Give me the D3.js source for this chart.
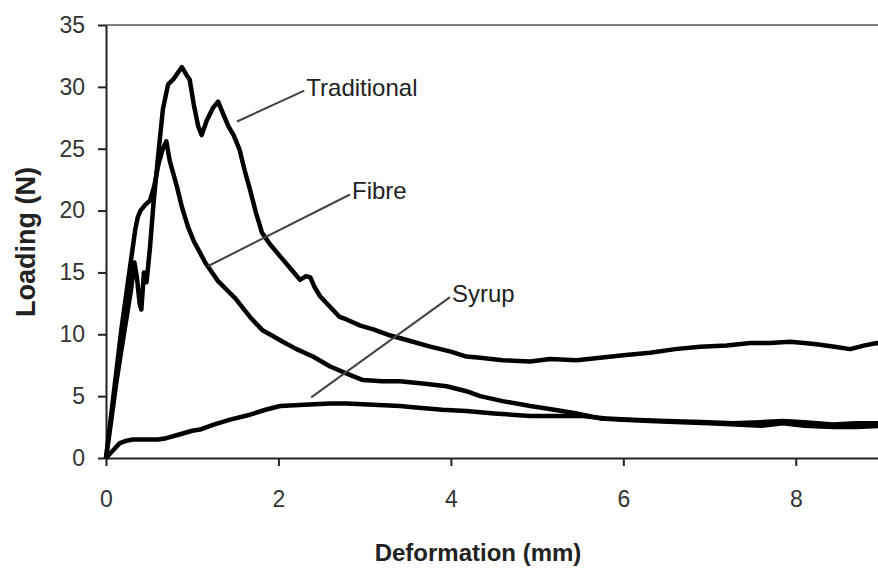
<!DOCTYPE html>
<html>
<head>
<meta charset="utf-8">
<script src="https://cdn.jsdelivr.net/npm/d3@7"></script>
<style>
  html, body { margin: 0; padding: 0; background: #fff; }
  svg { display: block; }
</style>
</head>
<body>
<div id="chart"></div>
<script>
// Load-deformation curves (x = mm, y = N)
const traditional = [
  [0,0],[0.06,3],[0.12,6.1],[0.18,8.8],[0.24,11.4],[0.29,13.6],[0.33,15.8],[0.36,14.5],
  [0.39,12.5],[0.41,12],[0.44,15],[0.47,14.2],[0.51,17],[0.55,20.5],[0.6,24.1],[0.66,28.2],
  [0.72,30.2],[0.78,30.6],[0.84,31.2],[0.88,31.6],[0.93,31],[0.97,30.6],[1.02,28.5],[1.07,26.8],
  [1.11,26.1],[1.17,27.3],[1.24,28.3],[1.3,28.8],[1.36,27.8],[1.42,26.8],[1.48,26.1],[1.55,24.9],
  [1.61,23.2],[1.67,21.7],[1.74,19.8],[1.81,18.2],[1.9,17.3],[2.02,16.3],[2.13,15.4],[2.25,14.4],
  [2.32,14.7],[2.37,14.6],[2.42,13.8],[2.48,13.1],[2.6,12.2],[2.71,11.4],[2.79,11.2],[2.95,10.7],
  [3.1,10.4],[3.3,9.9],[3.56,9.4],[3.76,9.0],[4.0,8.6],[4.18,8.2],[4.34,8.1],[4.6,7.9],[4.92,7.8],
  [5.15,8.0],[5.46,7.9],[5.73,8.1],[6.0,8.3],[6.31,8.5],[6.6,8.8],[6.89,9.0],[7.2,9.1],[7.47,9.3],
  [7.7,9.3],[7.93,9.4],[8.1,9.3],[8.24,9.2],[8.45,9.0],[8.63,8.8],[8.8,9.1],[8.94,9.3],[9,9.2]
];

const fibre = [
  [0,0],[0.06,3.5],[0.12,7],[0.18,10.5],[0.25,14],[0.3,16.5],[0.34,18.5],[0.37,19.5],[0.4,20],
  [0.46,20.5],[0.51,20.8],[0.56,22],[0.61,23.8],[0.66,25],[0.7,25.6],[0.74,24],[0.78,23],[0.82,22],
  [0.88,20.3],[0.95,18.7],[1.02,17.5],[1.09,16.6],[1.15,15.8],[1.21,15.2],[1.3,14.3],[1.4,13.6],
  [1.5,12.9],[1.58,12.2],[1.67,11.4],[1.75,10.8],[1.82,10.3],[1.95,9.8],[2.05,9.4],[2.21,8.8],
  [2.4,8.2],[2.6,7.4],[2.8,6.8],[2.98,6.3],[3.2,6.2],[3.41,6.2],[3.7,6.0],[3.95,5.8],[4.18,5.4],
  [4.34,5.0],[4.6,4.6],[4.92,4.2],[5.2,3.9],[5.46,3.6],[5.73,3.2],[6.0,3.1],[6.31,3.0],[6.6,2.9],
  [7.0,2.8],[7.3,2.7],[7.6,2.6],[7.85,2.8],[8.1,2.6],[8.43,2.5],[8.7,2.5],[9,2.6]
];

const syrup = [
  [0,0],[0.08,0.6],[0.16,1.2],[0.24,1.4],[0.31,1.5],[0.45,1.5],[0.6,1.5],[0.7,1.6],[0.85,1.9],
  [1.0,2.2],[1.09,2.3],[1.25,2.7],[1.44,3.1],[1.67,3.5],[1.85,3.9],[2.02,4.2],[2.3,4.3],[2.6,4.4],
  [2.79,4.4],[3.1,4.3],[3.41,4.2],[3.56,4.1],[3.9,3.9],[4.18,3.8],[4.5,3.6],[4.92,3.4],[5.2,3.4],
  [5.53,3.4],[5.8,3.2],[6.1,3.1],[6.5,3.0],[6.9,2.9],[7.27,2.8],[7.6,2.9],[7.85,3.0],[8.1,2.9],
  [8.43,2.7],[8.7,2.8],[9,2.8]
];

// Tick values
const xTicks = [0, 2, 4, 6, 8];
const yTicks = [0, 5, 10, 15, 20, 25, 30, 35];

// Curve labels and their leader lines (data units)
const labelNames = ["Traditional", "Fibre", "Syrup"];
const leaderFrom = [[1.52, 27.2], [1.18, 15.5], [2.38, 4.9]];
const leaderTo = [[2.30, 29.7], [2.83, 21.3], [3.99, 13.0]];

const width = 878;
const height = 575;
const font = "'Liberation Sans', Arial, sans-serif";

const svg = d3.select("#chart").append("svg")
  .attr("width", width)
  .attr("height", height);

svg.append("rect")
  .attr("width", width)
  .attr("height", height)
  .attr("fill", "#fff");

const x = d3.scaleLinear().domain([0, 9]).range([106, 882]);
const y = d3.scaleLinear().domain([0, 35]).range([458, 25]);

// clip curves to the plot area
svg.append("clipPath")
  .attr("id", "plot-clip")
  .append("rect")
  .attr("x", x(0) - 4)
  .attr("y", y(35))
  .attr("width", width - x(0) + 4)
  .attr("height", y(0) - y(35) + 4);

// top frame line
svg.append("line")
  .attr("x1", x(0))
  .attr("x2", width)
  .attr("y1", y(35))
  .attr("y2", y(35))
  .attr("stroke", "#555")
  .attr("stroke-width", 1.5);

// x axis
const xAxis = svg.append("g")
  .attr("transform", `translate(0,${y(0)})`)
  .call(d3.axisBottom(x).tickValues(xTicks).tickSize(8).tickPadding(25).tickSizeOuter(0));

// y axis
const yAxis = svg.append("g")
  .attr("transform", `translate(${x(0)},0)`)
  .call(d3.axisLeft(y).tickValues(yTicks).tickSize(8).tickPadding(13).tickSizeOuter(0));

[xAxis, yAxis].forEach(g => {
  g.select(".domain").attr("stroke", "#222").attr("stroke-width", 2);
  g.selectAll(".tick line").attr("stroke", "#222").attr("stroke-width", 2);
  g.selectAll(".tick text")
    .attr("fill", "#333")
    .style("font-family", font)
    .style("font-size", "23px");
});

// curves
const line = d3.line()
  .x(d => x(d[0]))
  .y(d => y(d[1]));

const curves = svg.append("g").attr("clip-path", "url(#plot-clip)");

[syrup, fibre, traditional].forEach(series => {
  curves.append("path")
    .datum(series)
    .attr("d", line)
    .attr("fill", "none")
    .attr("stroke", "#000")
    .attr("stroke-width", 4.5)
    .attr("stroke-linejoin", "round");
});

// leader lines and labels
labelNames.forEach((name, i) => {
  svg.append("line")
    .attr("x1", x(leaderFrom[i][0]))
    .attr("y1", y(leaderFrom[i][1]))
    .attr("x2", x(leaderTo[i][0]))
    .attr("y2", y(leaderTo[i][1]))
    .attr("stroke", "#444")
    .attr("stroke-width", 2);

  svg.append("text")
    .attr("x", x(leaderTo[i][0]) + 2)
    .attr("y", y(leaderTo[i][1]) + 5)
    .attr("fill", "#222")
    .style("font-family", font)
    .style("font-size", "24px")
    .text(name);
});

// axis titles
svg.append("text")
  .attr("x", 478)
  .attr("y", 561)
  .attr("text-anchor", "middle")
  .attr("fill", "#222")
  .style("font-family", font)
  .style("font-size", "24px")
  .style("font-weight", "bold")
  .text("Deformation (mm)");

svg.append("text")
  .attr("transform", "translate(35,242) rotate(-90)")
  .attr("text-anchor", "middle")
  .attr("fill", "#222")
  .style("font-family", font)
  .style("font-size", "27px")
  .style("font-weight", "bold")
  .text("Loading (N)");
</script>
</body>
</html>
